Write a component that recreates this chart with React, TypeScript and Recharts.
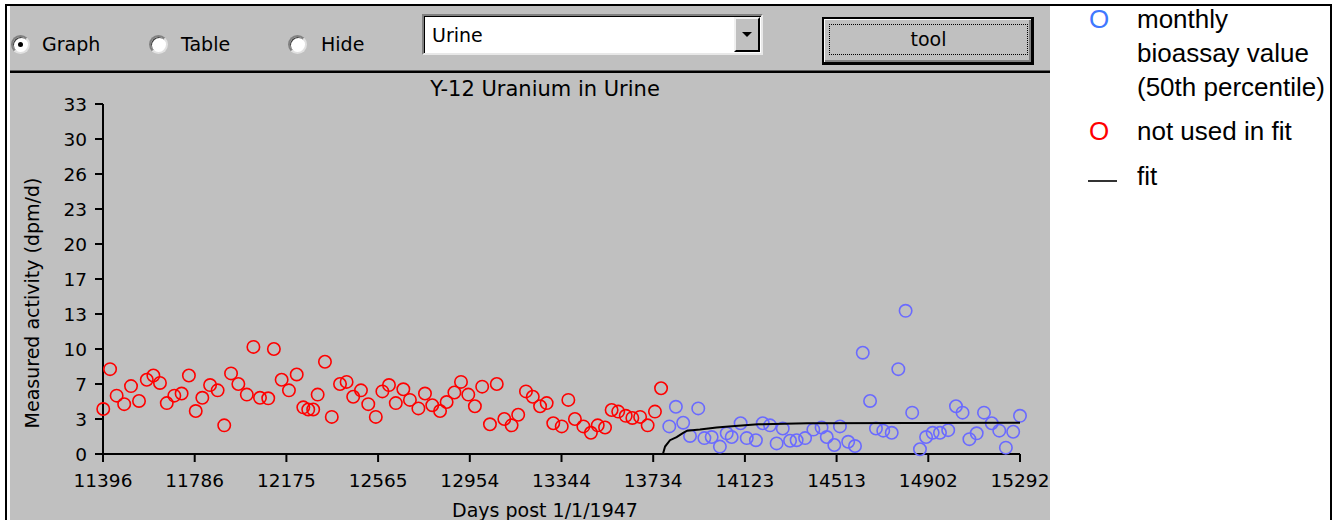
import { ScatterChart, Scatter, XAxis, YAxis } from 'recharts';

// Days post 1/1/1947 for each monthly bioassay value
const redDays = [
  11397, 11426, 11454, 11486, 11515, 11549, 11582, 11610, 11638, 11667,
  11699, 11730, 11761, 11790, 11818, 11851, 11883, 11911, 11940, 11971,
  12007, 12035, 12063, 12098, 12122, 12155, 12186, 12219, 12247, 12268,
  12289, 12308, 12339, 12368, 12403, 12431, 12459, 12492, 12523, 12555,
  12583, 12611, 12640, 12672, 12700, 12736, 12764, 12795, 12828, 12856,
  12889, 12917, 12948, 12976, 13007, 13040, 13069, 13101, 13132, 13160,
  13193, 13222, 13253, 13281, 13309, 13345, 13373, 13401, 13437, 13469,
  13498, 13529, 13557, 13585, 13617, 13645, 13678, 13710, 13741, 13767,
];
const redValues = [
  4.24, 8.0, 5.5, 4.7, 6.4, 5.0, 7.0, 7.4, 6.7, 4.8,
  5.5, 5.7, 7.4, 4.05, 5.3, 6.5, 6.0, 2.7, 7.6, 6.6,
  5.6, 10.1, 5.3, 5.25, 9.9, 7.0, 6.0, 7.5, 4.4, 4.2,
  4.2, 5.6, 8.7, 3.5, 6.6, 6.8, 5.4, 6.0, 4.7, 3.5,
  5.9, 6.5, 4.8, 6.1, 5.1, 4.3, 5.7, 4.6, 4.05, 4.9,
  5.8, 6.8, 5.6, 4.5, 6.35, 2.8, 6.6, 3.3, 2.7, 3.7,
  5.9, 5.4, 4.5, 4.8, 2.9, 2.6, 5.1, 3.3, 2.6, 2.0,
  2.7, 2.5, 4.15, 4.0, 3.6, 3.4, 3.5, 2.7, 4.0, 6.2,
];

const blueDays = [
  13802, 13830, 13861, 13890, 13925, 13951, 13982, 14017, 14046, 14067,
  14105, 14131, 14170, 14199, 14230, 14258, 14284, 14315, 14343, 14379,
  14414, 14449, 14471, 14503, 14527, 14562, 14591, 14624, 14655, 14680,
  14711, 14747, 14775, 14806, 14834, 14867, 14893, 14921, 14952, 14987,
  15020, 15048, 15077, 15108, 15139, 15172, 15204, 15232, 15263, 15292,
];
const blueValues = [
  2.6, 4.45, 2.95, 1.7, 4.3, 1.5, 1.6, 0.7, 1.95, 1.6,
  2.9, 1.5, 1.3, 2.9, 2.7, 1.0, 2.4, 1.25, 1.3, 1.5,
  2.3, 2.5, 1.6, 0.85, 2.6, 1.15, 0.75, 9.55, 5.0, 2.4,
  2.2, 2.0, 8.0, 13.5, 3.9, 0.45, 1.6, 2.0, 2.0, 2.25,
  4.5, 3.9, 1.4, 1.95, 3.9, 2.9, 2.2, 0.6, 2.1, 3.6,
];

const fitDays = [13775, 13784, 13805, 13833, 13861, 13878, 13932, 14003, 14081, 14179, 14387, 15292];
const fitValues = [0, 0.7, 1.3, 1.6, 2.0, 2.2, 2.3, 2.5, 2.65, 2.8, 2.9, 2.95];

const xTicks = [11396, 11785.6, 12175.2, 12564.8, 12954.4, 13344, 13733.6, 14123.2, 14512.8, 14902.4, 15292];
const yTicks = [0, 3.3, 6.6, 9.9, 13.2, 16.5, 19.8, 23.1, 26.4, 29.7, 33];

const redData = redDays.map((day, i) => ({ day, value: redValues[i] }));
const blueData = blueDays.map((day, i) => ({ day, value: blueValues[i] }));
const fitData = fitDays.map((day, i) => ({ day, value: fitValues[i] }));

const GREY = '#c0c0c0';
const UI_FONT = '"DejaVu Sans", sans-serif';
const LEGEND_FONT = '"Liberation Sans", Arial, sans-serif';

const ring = (color: string) => (props: any) => (
  <circle cx={props.cx} cy={props.cy} r={6.2} fill="none" stroke={color} strokeWidth={1.6} />
);

const tickStyle = { fill: '#000', fontSize: 18.5, fontFamily: UI_FONT };

const Radio = ({ cx, checked }: { cx: number; checked?: boolean }) => (
  <div
    style={{
      position: 'absolute',
      left: cx - 9.5,
      top: 44 - 9.5,
      width: 19,
      height: 19,
      boxSizing: 'border-box',
      borderRadius: '50%',
      background: '#fff',
      borderStyle: 'solid',
      borderWidth: 2,
      borderColor: '#808080 #e0e0e0 #e0e0e0 #808080',
      boxShadow: 'inset 1px 1px 0 #404040',
    }}
  >
    {checked && (
      <div
        style={{
          position: 'absolute',
          left: 5,
          top: 5,
          width: 5,
          height: 5,
          borderRadius: '50%',
          background: '#000',
        }}
      />
    )}
  </div>
);

const label = (text: string, left: number, top: number, extra: object = {}) => (
  <div
    style={{
      position: 'absolute',
      left,
      top,
      fontFamily: UI_FONT,
      fontSize: 19,
      lineHeight: '22px',
      color: '#000',
      whiteSpace: 'nowrap',
      ...extra,
    }}
  >
    {text}
  </div>
);

export default function App() {
  return (
    <div
      style={{
        position: 'relative',
        width: 1340,
        height: 520,
        background: '#fff',
        overflow: 'hidden',
      }}
    >
      <style>{'body{margin:0}'}</style>

      {/* window frame */}
      <div style={{ position: 'absolute', left: 10, top: 6, width: 1040, height: 514, background: GREY }} />
      <div style={{ position: 'absolute', left: 5, top: 4, width: 1327, height: 2, background: '#000' }} />
      <div style={{ position: 'absolute', left: 5, top: 4, width: 2, height: 516, background: '#000' }} />
      <div style={{ position: 'absolute', left: 1330, top: 4, width: 2, height: 516, background: '#000' }} />
      <div style={{ position: 'absolute', left: 10, top: 70, width: 1040, height: 1, background: '#606060' }} />
      <div style={{ position: 'absolute', left: 10, top: 71, width: 1040, height: 2, background: '#000' }} />

      {/* toolbar */}
      <Radio cx={20} checked />
      {label('Graph', 42, 33)}
      <Radio cx={158} />
      {label('Table', 181, 33)}
      <Radio cx={297} />
      {label('Hide', 321, 33)}

      <div
        style={{
          position: 'absolute',
          left: 422,
          top: 14,
          width: 341,
          height: 41,
          boxSizing: 'border-box',
          background: '#fff',
          borderStyle: 'solid',
          borderWidth: 2,
          borderColor: '#808080 #e8e8e8 #e8e8e8 #808080',
          boxShadow: 'inset 1px 1px 0 #000',
        }}
      />
      {label('Urine', 432, 24)}
      <div
        style={{
          position: 'absolute',
          left: 734,
          top: 17,
          width: 26,
          height: 35,
          boxSizing: 'border-box',
          background: GREY,
          borderStyle: 'solid',
          borderWidth: 2,
          borderColor: '#f0f0f0 #000 #000 #f0f0f0',
        }}
      />
      <div
        style={{
          position: 'absolute',
          left: 742,
          top: 32,
          width: 0,
          height: 0,
          borderLeft: '5px solid transparent',
          borderRight: '5px solid transparent',
          borderTop: '5px solid #000',
        }}
      />

      <div
        style={{
          position: 'absolute',
          left: 822,
          top: 17,
          width: 212,
          height: 48,
          boxSizing: 'border-box',
          background: GREY,
          border: '2px solid #000',
          borderRightWidth: 3,
          borderBottomWidth: 3,
          boxShadow: 'inset 1px 1px 0 #fff, inset -2px -2px 0 #808080',
        }}
      />
      <div
        style={{
          position: 'absolute',
          left: 829,
          top: 24,
          width: 199,
          height: 31,
          boxSizing: 'border-box',
          border: '1px dotted #000',
        }}
      />
      {label('tool', 829, 28, { width: 199, textAlign: 'center' })}

      {/* chart titles */}
      {label('Y-12 Uranium in Urine', 345, 78, { width: 400, textAlign: 'center', fontSize: 21 })}
      {label('Days post 1/1/1947', 345, 499, { width: 400, textAlign: 'center' })}
      {label('Measured activity (dpm/d)', 32 - 150, 292, {
        width: 300,
        textAlign: 'center',
        transform: 'rotate(-90deg)',
      })}

      <div style={{ position: 'absolute', left: 0, top: 74 }}>
        <ScatterChart width={1050} height={446} margin={{ top: 30, right: 30, bottom: 0, left: 0 }}>
          <XAxis
            type="number"
            dataKey="day"
            domain={[11396, 15292]}
            ticks={xTicks}
            interval={0}
            tickFormatter={(v: number) => String(Math.round(v))}
            height={66}
            tickSize={8}
            tickMargin={12}
            axisLine={{ stroke: '#000', strokeWidth: 2 }}
            tickLine={{ stroke: '#000', strokeWidth: 2 }}
            tick={tickStyle}
          />
          <YAxis
            type="number"
            dataKey="value"
            domain={[0, 33]}
            ticks={yTicks}
            interval={0}
            tickFormatter={(v: number) => String(Math.round(v))}
            width={103}
            tickSize={8}
            tickMargin={8}
            axisLine={{ stroke: '#000', strokeWidth: 2 }}
            tickLine={{ stroke: '#000', strokeWidth: 2 }}
            tick={tickStyle}
          />
          <Scatter name="not used in fit" data={redData} shape={ring('#ff0000')} isAnimationActive={false} />
          <Scatter
            name="monthly bioassay value (50th percentile)"
            data={blueData}
            shape={ring('#6a6aff')}
            isAnimationActive={false}
          />
          <Scatter
            name="fit"
            data={fitData}
            line={{ stroke: '#000', strokeWidth: 2 }}
            shape={() => <g />}
            isAnimationActive={false}
          />
        </ScatterChart>
      </div>

      {/* legend */}
      <div
        style={{
          position: 'absolute',
          left: 1089,
          top: 2,
          fontFamily: LEGEND_FONT,
          fontSize: 26,
          lineHeight: '34px',
          color: '#3f78ff',
        }}
      >
        O
      </div>
      <div
        style={{
          position: 'absolute',
          left: 1137,
          top: 2,
          fontFamily: LEGEND_FONT,
          fontSize: 26,
          lineHeight: '34px',
          color: '#000',
          whiteSpace: 'nowrap',
        }}
      >
        monthly
        <br />
        bioassay value
        <br />
        (50th percentile)
      </div>
      <div
        style={{
          position: 'absolute',
          left: 1089,
          top: 114,
          fontFamily: LEGEND_FONT,
          fontSize: 26,
          lineHeight: '34px',
          color: '#ff0000',
        }}
      >
        O
      </div>
      <div
        style={{
          position: 'absolute',
          left: 1137,
          top: 114,
          fontFamily: LEGEND_FONT,
          fontSize: 26,
          lineHeight: '34px',
          color: '#000',
          whiteSpace: 'nowrap',
        }}
      >
        not used in fit
      </div>
      <div style={{ position: 'absolute', left: 1088, top: 180, width: 29, height: 1.5, background: '#333' }} />
      <div
        style={{
          position: 'absolute',
          left: 1137,
          top: 159,
          fontFamily: LEGEND_FONT,
          fontSize: 26,
          lineHeight: '34px',
          color: '#000',
        }}
      >
        fit
      </div>
    </div>
  );
}
